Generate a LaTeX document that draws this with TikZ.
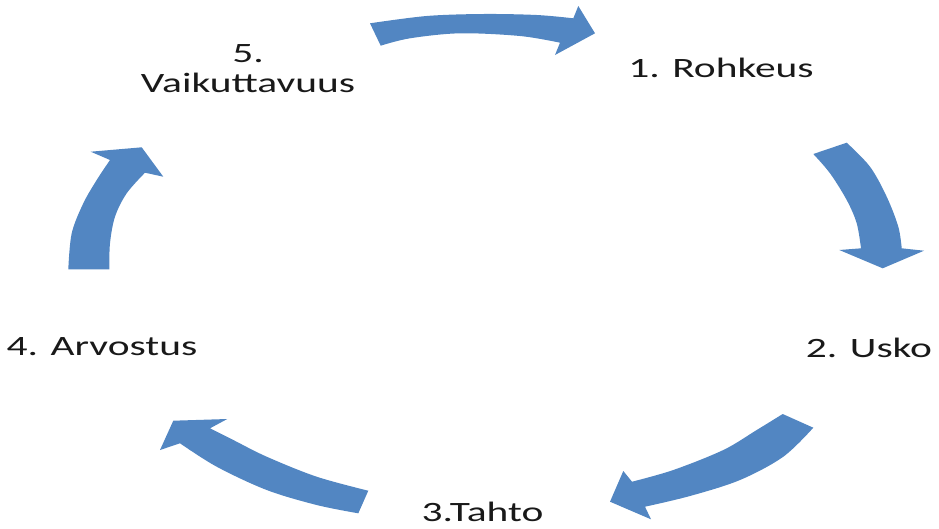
\documentclass[tikz,border=0pt]{standalone}
\usepackage{fontspec}
\newfontfamily\labelfont[FakeStretch=1.48]{Carlito}
\definecolor{arrowblue}{RGB}{82,134,194}
\begin{document}
\begin{tikzpicture}[x=1pt,y=-1pt,
  lbl/.style={inner sep=0pt, text=black!90, font=\labelfont\fontsize{28}{30}\selectfont},
  blockarrow/.style={fill=arrowblue, draw=none},
  curve/.style={smooth, tension=0.55}]
\useasboundingbox (0,0) rectangle (939,528);
% arrow 1 (5 -> 1)
\fill[blockarrow] plot[curve] coordinates {(370,23.3) (426.7,16) (483.3,14) (536.7,15) (573.3,18.3)}
  -- (578.3,6) -- (595,33.3) -- (555,55)
  -- plot[curve] coordinates {(560,42.7) (520,36) (460,33.3) (410,38.3) (380.7,45.7)} -- cycle;
% arrow 2 (1 -> 2)
\fill[blockarrow] plot[curve] coordinates {(846.7,142.7) (870,166.7) (886.7,196.7) (898.3,226.7) (901.7,248.3)}
  -- (924,250.7) -- (882.7,268.3) -- (839.3,250)
  -- plot[curve] coordinates {(861,248.3) (856.7,223.3) (846.7,200) (830,173.3) (813.3,154)} -- cycle;
% arrow 3 (2 -> 3)
\fill[blockarrow] plot[curve] coordinates {(782.7,414) (756.7,430) (723.3,450) (673.3,470) (632,481.7)}
  -- (623.3,471) -- (610,501.7) -- (651,519.3)
  -- plot[curve] coordinates {(645,506.7) (690,496) (740,480) (783.3,456.7) (813.3,427.7)} -- cycle;
% arrow 4 (3 -> 4)
\fill[blockarrow] plot[curve] coordinates {(368.3,490.7) (316.7,476.7) (266.7,456.7) (233.3,440) (210,428.3)}
  -- (227.3,419) -- (173.3,420.7) -- (160,450)
  -- plot[curve] coordinates {(180,443.3) (216.7,466.7) (266.7,490) (316.7,505) (358.3,513.3)} -- cycle;
% arrow 5 (4 -> 5)
\fill[blockarrow] plot[curve] coordinates {(68.3,269.3) (71.7,233.3) (83.3,203.3) (96.7,180) (110,160)}
  -- (90.7,151.7) -- (141.7,147.3) -- (163.3,176.7)
  -- plot[curve] coordinates {(145,172.7) (126.7,193.3) (115,216.7) (110,243.3) (109.3,269.3)} -- cycle;
% labels
\node[lbl, anchor=base] (n1) at (721,77.7) {1. Rohkeus};
\node[lbl, anchor=base] (n2) at (869,357) {2. Usko};
\node[lbl, anchor=base] (n3) at (482.5,521) {3.Tahto};
\node[lbl, anchor=base] (n4) at (102,355) {4. Arvostus};
\node[lbl, anchor=base, align=center] (n5) at (248,92) {5.\\Vaikuttavuus};
\end{tikzpicture}
\end{document}
